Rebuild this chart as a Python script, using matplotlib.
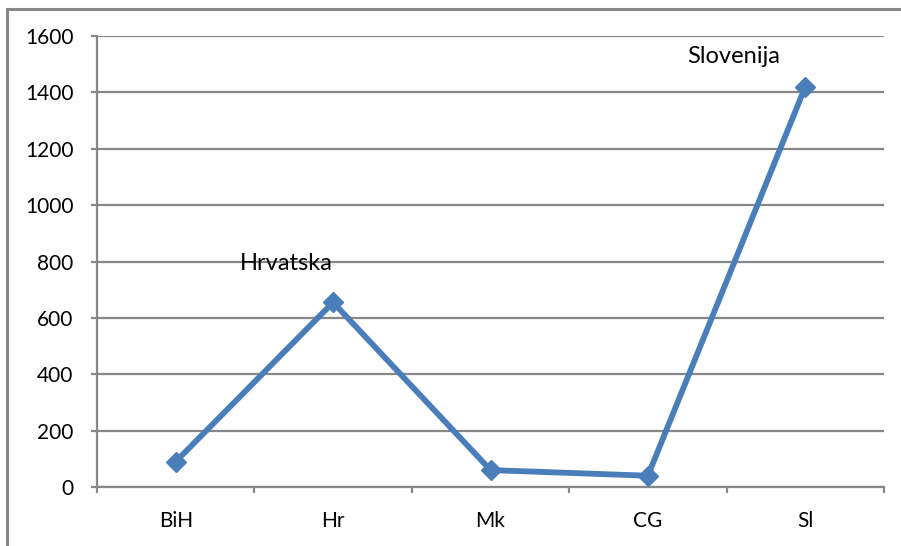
import matplotlib
matplotlib.use("Agg")
import matplotlib.pyplot as plt
from matplotlib.patches import Rectangle

countries = ["BiH", "Hr", "Mk", "CG", "Sl"]
values = [90, 655, 60, 40, 1420]
point_labels = {1: "Hrvatska", 4: "Slovenija"}
y_ticks = [0, 200, 400, 600, 800, 1000, 1200, 1400, 1600]

plt.rcParams["font.family"] = ["Lato", "DejaVu Sans"]

W, H, DPI = 901, 546, 100
fig = plt.figure(figsize=(W / DPI, H / DPI), dpi=DPI)
ax = fig.add_axes([97 / W, 1 - 487 / H, (884 - 97) / W, (487 - 36) / H])

grid_col = "#878787"
line_col = "#4A7EBB"

# outer chart frame
fig.patches.append(Rectangle((7 / W, -0.05), 1.1, (H - 9) / H + 0.05,
                             transform=fig.transFigure, fill=False,
                             edgecolor=grid_col, linewidth=2.2, zorder=0))

x = list(range(len(countries)))
ax.plot(x, values, color=line_col, linewidth=4.2, marker="D", markersize=10,
        markerfacecolor=line_col, markeredgecolor=line_col, zorder=3,
        solid_joinstyle="round")

offsets = {1: (-47, 39), 4: (-72, 30)}
for i, text in point_labels.items():
    dx, dy = offsets[i]
    ax.annotate(text, (x[i], values[i]), xytext=(dx * 0.72, dy * 0.72),
                textcoords="offset points", ha="center", va="center",
                fontsize=17, color="black")

ax.set_xlim(-0.5, len(countries) - 0.5)
ax.set_ylim(0, 1600)
ax.set_yticks(y_ticks)
ax.set_yticklabels([str(v) for v in y_ticks], fontsize=15)
ax.yaxis.grid(True, color=grid_col, linewidth=1.6)
ax.set_axisbelow(True)

ax.set_xticks([i - 0.5 for i in range(len(countries) + 1)])
ax.set_xticklabels([])
ax.set_xticks(x, minor=True)
ax.set_xticklabels(countries, minor=True, fontsize=15)
ax.tick_params(axis="x", which="minor", length=0, pad=17)
ax.tick_params(axis="x", which="major", length=4, width=1.6, color=grid_col, direction="out")
ax.tick_params(axis="y", length=4, width=1.6, color=grid_col, pad=13)

for s in ["top", "right"]:
    ax.spines[s].set_visible(False)
for s in ["left", "bottom"]:
    ax.spines[s].set_color(grid_col)
    ax.spines[s].set_linewidth(1.6)

fig.savefig("out.png", dpi=DPI)
